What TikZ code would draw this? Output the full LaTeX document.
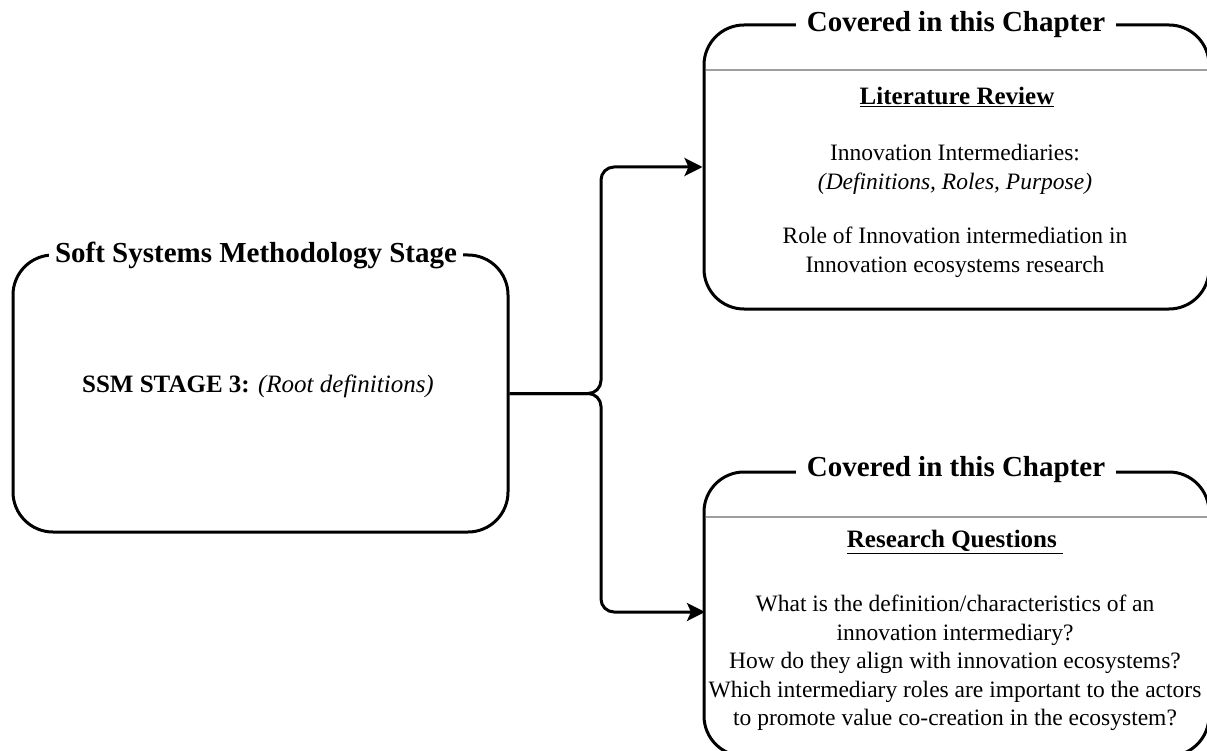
\documentclass[tikz,border=0pt]{standalone}
\usepackage{fontspec}
\setmainfont{Liberation Serif}
\usetikzlibrary{arrows.meta}

\tikzset{
  frame/.style={draw=black, line width=3pt, rounded corners=40pt, fill=none,
    minimum width=#1, inner sep=0pt},
  boxtitle/.style={fill=white, inner xsep=11pt, inner ysep=2pt,
    font=\fontsize{29}{32}\selectfont\bfseries},
  heading/.style={font=\fontsize{25}{29}\selectfont\bfseries},
  bodytext/.style={align=center, font=\fontsize{23.5}{28.6}\selectfont, inner sep=0pt},
  divider/.style={draw=black!38, line width=1.6pt},
  conn/.style={draw=black, line width=3pt, rounded corners=13pt,
    -{Stealth[length=18pt, width=18pt, inset=4pt]}},
}

\begin{document}
\begin{tikzpicture}[x=1pt, y=-1pt]
  \useasboundingbox (0,0) rectangle (1207,751);
  \clip (0,0) rectangle (1207,751);

  % left stage box
  \node[frame=495pt, minimum height=277pt] (ssm) at (260.5,393.5) {};
  \node[boxtitle, inner xsep=6pt] (ssmtitle) at (256,255) {Soft Systems Methodology Stage};
  \node[font=\fontsize{25}{30}\selectfont] (ssmtext) at (258,386)
    {\textbf{SSM STAGE 3:} \textit{(Root definitions)}};

  % upper right box: literature review (runs past the right margin)
  \node[frame=505pt, minimum height=284pt] (lit) at (956.5,167) {};
  \draw[divider] (705.5,70) -- (1210,70);
  \node[boxtitle] (littitle) at (956,25) {Covered in this Chapter};
  \node[heading] (lithead) at (957,97) {\underline{Literature Review}};
  \node[bodytext] (litbody) at (955,211)
    {Innovation Intermediaries:\\
     \textit{(Definitions, Roles, Purpose)}\\[26pt]
     Role of Innovation intermediation in\\
     Innovation ecosystems research};

  % lower right box: research questions (runs past the right and bottom margins)
  \node[frame=505pt, minimum height=284pt] (rq) at (956.5,614) {};
  \draw[divider] (705.5,517) -- (1210,517);
  \node[boxtitle] (rqtitle) at (956,470) {Covered in this Chapter};
  \node[heading] (rqhead) at (955,542) {\underline{Research Questions\ }};
  \node[bodytext] (rqbody) at (955,663)
    {What is the definition/characteristics of an\\
     innovation intermediary?\\
     How do they align with innovation ecosystems?\\
     Which intermediary roles are important to the actors\\
     to promote value co-creation in the ecosystem?};

  % branching connector
  \coordinate (split) at (601,393.5);
  \coordinate (lowtip) at (705,612);
  \draw[conn] (ssm.east) -| (split |- lit.west) -- (lit.west);
  \draw[conn] (ssm.east) -| (split |- lowtip) -- (lowtip);
\end{tikzpicture}
\end{document}
